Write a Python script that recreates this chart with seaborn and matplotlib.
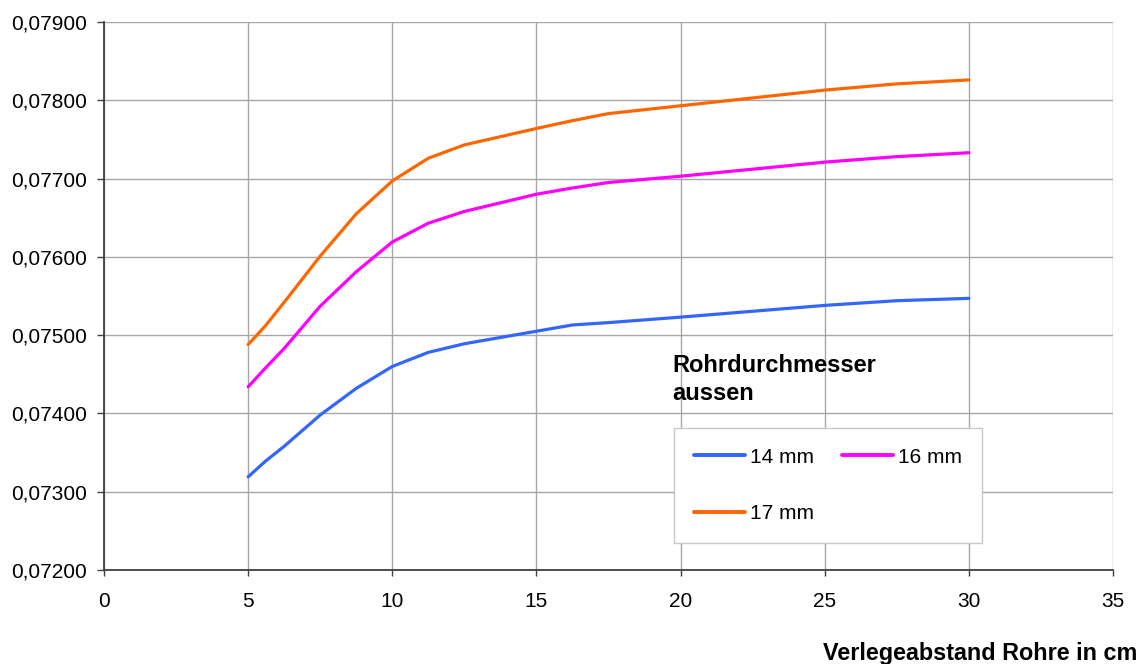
import matplotlib
matplotlib.use("Agg")
import matplotlib.pyplot as plt
from matplotlib.ticker import FuncFormatter, MultipleLocator
import seaborn as sns
import pandas as pd

# Verlegeabstand (cm)
abstand = [5, 5.6, 6.25, 7.5, 8.75, 10, 11.25, 12.5, 15, 16.25, 17.5, 20, 25, 27.5, 30]

# Werte je Rohrdurchmesser
d14 = [0.07319, 0.07339, 0.07358, 0.07398, 0.07432, 0.07460, 0.07478, 0.07489,
       0.07505, 0.07513, 0.07516, 0.07523, 0.07538, 0.07544, 0.07547]
d16 = [0.07434, 0.07458, 0.07483, 0.07537, 0.07581, 0.07619, 0.07643, 0.07658,
       0.07680, 0.07688, 0.07695, 0.07703, 0.07721, 0.07728, 0.07733]
d17 = [0.07488, 0.07512, 0.07542, 0.07601, 0.07655, 0.07697, 0.07726, 0.07743,
       0.07764, 0.07774, 0.07783, 0.07793, 0.07813, 0.07821, 0.07826]

serien = ["14 mm", "16 mm", "17 mm"]
farben = ["#3366FF", "#FF00FF", "#FF6600"]

df = pd.concat([
    pd.DataFrame({"x": abstand, "y": vals, "Serie": name})
    for name, vals in zip(serien, [d14, d16, d17])
])

sns.set_theme(style="white")
plt.rcParams["font.family"] = ["Liberation Sans", "DejaVu Sans"]
plt.rcParams["text.color"] = "black"

W, H = 1140, 664
fig = plt.figure(figsize=(W / 100, H / 100), dpi=100)
ax = fig.add_axes([104 / W, 1 - 570 / H, (1113 - 104) / W, (570 - 22) / H])

sns.lineplot(data=df, x="x", y="y", hue="Serie", palette=farben,
             linewidth=2.3, ax=ax, sort=False)

ax.set_xlim(0, 35)
ax.set_ylim(0.072, 0.079)
ax.xaxis.set_major_locator(MultipleLocator(5))
ax.yaxis.set_major_locator(MultipleLocator(0.001))
ax.yaxis.set_major_formatter(FuncFormatter(lambda v, p: f"{v:.5f}".replace(".", ",")))

ax.grid(True, color="#a6a6a6", linewidth=1.0)
ax.set_axisbelow(True)
for s in ["top", "right"]:
    ax.spines[s].set_visible(False)
for s in ["left", "bottom"]:
    ax.spines[s].set_color("#404040")
    ax.spines[s].set_linewidth(1.3)

ax.tick_params(axis="both", which="major", width=1, color="#404040",
               labelsize=15, labelcolor="black", direction="out", bottom=True, left=True)
ax.tick_params(axis="x", length=4.3, pad=11.5)
ax.tick_params(axis="y", length=5, pad=7.5)

ax.set_xlabel("")
ax.set_ylabel("")
fig.text(1137 / W, 1 - 660 / H, "Verlegeabstand Rohre in cm", ha="right", va="baseline",
         fontsize=16.8, fontweight="bold", color="black")

# Legendentitel über dem Legendenkasten
fig.text(672 / W, 1 - 371.7 / H, "Rohrdurchmesser", ha="left", va="baseline",
         fontsize=17, fontweight="bold", color="black")
fig.text(672 / W, 1 - 400 / H, "aussen", ha="left", va="baseline",
         fontsize=17, fontweight="bold", color="black")

handles, labels = ax.get_legend_handles_labels()
order = [0, 2, 1]  # zeilenweise: 14 mm, 16 mm / 17 mm
leg = ax.legend([handles[i] for i in order], [labels[i] for i in order],
                loc="upper left", bbox_to_anchor=(674 / W, 1 - 428 / H),
                bbox_transform=fig.transFigure, borderaxespad=0, ncol=2,
                frameon=True, fontsize=15, handlelength=2.45, handletextpad=0.25,
                columnspacing=1.35, labelspacing=1.8, borderpad=0.95, fancybox=False,
                labelcolor="black")
leg.get_frame().set_edgecolor("#c8c8c8")
leg.get_frame().set_linewidth(1.0)
leg.get_frame().set_facecolor("white")
leg.get_frame().set_alpha(1.0)
for line in leg.get_lines():
    line.set_linewidth(2.8)

fig.savefig("out.png", dpi=100, facecolor="white")
